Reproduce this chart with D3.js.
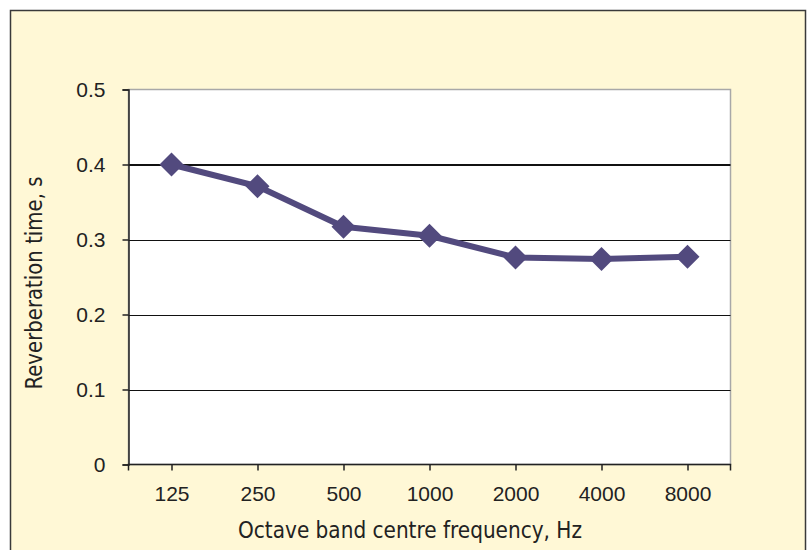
<!DOCTYPE html>
<html><head><meta charset="utf-8">
<script src="https://cdn.jsdelivr.net/npm/d3@7"></script>
<style>html,body{margin:0;padding:0;background:#fff;}svg{display:block;}</style>
</head><body>
<script>
const categories = ["125","250","500","1000","2000","4000","8000"];
const reverbValues = [0.400, 0.371, 0.317, 0.305, 0.276, 0.274, 0.277];
const yTicks = [0, 0.1, 0.2, 0.3, 0.4, 0.5];
const yTickLabels = ["0","0.1","0.2","0.3","0.4","0.5"];
const xTitle = "Octave band centre frequency, Hz";
const yTitle = "Reverberation time, s";

const W = 812, H = 550;
const svg = d3.select("body").append("svg").attr("width", W).attr("height", H);

svg.append("rect").attr("x", 10.5).attr("y", 10.5).attr("width", 795).attr("height", 560)
  .attr("fill", "#FFF8D6").attr("stroke", "#3a3a3a").attr("stroke-width", 1.5);

const L = 128.5, R = 730.5, T = 89.5, B = 464.5;
const x = d3.scalePoint().domain(categories).range([L, R]).padding(0.5);
const y = d3.scaleLinear().domain([0, 0.5]).range([B, T]);

svg.append("rect").attr("x", L).attr("y", T).attr("width", R - L).attr("height", B - T)
  .attr("fill", "#fff").attr("stroke", "#a8a8a8").attr("stroke-width", 1.5);

svg.append("g").selectAll("line").data(yTicks.filter(d => d > 0 && d < 0.5)).join("line")
  .attr("x1", L).attr("x2", R)
  .attr("y1", d => Math.round(y(d)) + (d === 0.4 ? 0 : 0.5))
  .attr("y2", d => Math.round(y(d)) + (d === 0.4 ? 0 : 0.5))
  .attr("stroke", "#111").attr("stroke-width", d => d === 0.4 ? 2 : 1);

const tickFont = "'Liberation Sans', Arial, sans-serif";
const yAxis = d3.axisLeft(y).tickValues(yTicks).tickSize(6).tickPadding(17)
  .tickFormat((d, i) => yTickLabels[i]);
const gy = svg.append("g").attr("transform", `translate(${L},0)`).call(yAxis);
gy.attr("font-size", null).attr("font-family", null);
gy.select(".domain").attr("stroke", "#222").attr("stroke-width", 1.5);
gy.selectAll(".tick line").attr("stroke", "#222").attr("stroke-width", 1.5);
gy.selectAll(".tick text").style("font-family", tickFont)
  .style("font-size", "21px").attr("fill", "#222");

const xAxis = d3.axisBottom(x).tickSize(6).tickPadding(16);
const gx = svg.append("g").attr("transform", `translate(0,${B})`).call(xAxis);
gx.attr("font-size", null).attr("font-family", null);
gx.select(".domain").attr("stroke", "#222").attr("stroke-width", 1.5)
  .attr("d", `M${L},6V0H${R}V6`);
gx.selectAll(".tick line").attr("stroke", "#222").attr("stroke-width", 1.5);
gx.selectAll(".tick text").style("font-family", tickFont)
  .style("font-size", "21px").attr("fill", "#222");

const data = categories.map((c, i) => ({c, v: reverbValues[i]}));
svg.append("path").datum(data)
  .attr("d", d3.line().x(d => x(d.c)).y(d => y(d.v)))
  .attr("fill", "none").attr("stroke", "#524A7E").attr("stroke-width", 6)
  .attr("stroke-linejoin", "round");

svg.append("g").selectAll("path").data(data).join("path")
  .attr("transform", d => `translate(${x(d.c)},${y(d.v)})`)
  .attr("d", "M0,-12L12,0L0,12L-12,0Z")
  .attr("fill", "#524A7E");

svg.append("text").attr("x", 410).attr("y", 538).attr("text-anchor", "middle")
  .style("font-family", "'Liberation Sans Narrow', 'DejaVu Sans Condensed', sans-serif")
  .style("font-size", "23px").attr("fill", "#222")
  .attr("textLength", 344).attr("lengthAdjust", "spacingAndGlyphs")
  .text(xTitle);

svg.append("text").attr("transform", "translate(42,283) rotate(-90)")
  .attr("text-anchor", "middle")
  .style("font-family", "'Liberation Sans Narrow', 'DejaVu Sans Condensed', sans-serif")
  .style("font-size", "23px").attr("fill", "#222")
  .attr("textLength", 213).attr("lengthAdjust", "spacingAndGlyphs")
  .text(yTitle);
</script>
</body></html>
